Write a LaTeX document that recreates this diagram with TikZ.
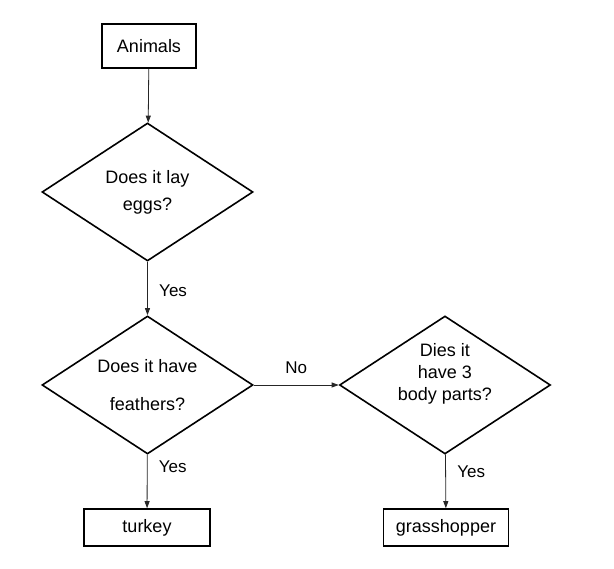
\documentclass[tikz,border=0pt]{standalone}
\usepackage{fontspec}
\setmainfont{Liberation Sans}
\usetikzlibrary{arrows.meta, shapes.geometric}

\begin{document}
\begin{tikzpicture}[x=1pt, y=-1pt,
	font=\fontsize{18}{23}\selectfont,
	box/.style={draw, line width=1.6pt, inner sep=0pt, minimum height=37pt},
	question/.style={draw, diamond, aspect=1.5, line width=1.6pt, inner sep=0pt, align=center, minimum width=211pt, minimum height=138pt},
	link/.style={draw=black!85, line width=0.8pt, -{Triangle[length=7pt, width=5pt]}},
	answer/.style={font=\fontsize{17}{20}\selectfont}]
\useasboundingbox (0,0) rectangle (614,569);
\node[box, minimum width=94pt, minimum height=44pt] (animals) at (149,46) {Animals};
\node[question] (eggs) at (147.5,192) {\raisebox{-5pt}{Does it lay}\\[9pt] eggs?};
\node[question] (feathers) at (147.5,385) {Does it have\\[15pt] feathers?};
\node[question] (parts) at (445,385) {\raisebox{7pt}[0pt][0pt]{\fontsize{18}{22}\selectfont\begin{tabular}{@{}c@{}}Dies it\\ have 3\\ body parts?\end{tabular}}};
\node[box, minimum width=126pt] (turkey) at (147,527.5) {turkey};
\node[box, minimum width=125pt] (hopper) at (446,527.5) {grasshopper};

\draw[link] (animals) -- (eggs);
\draw[link] (eggs) -- node[answer, right=8pt, pos=0.55] {Yes} (feathers);
\draw[link] (feathers) -- node[answer, right=8pt, pos=0.22] {Yes} (turkey);
\draw[link] (feathers) -- node[answer, above=8pt] {No} (parts);
\draw[link] (parts) -- node[answer, right=8pt, pos=0.33] {Yes} (hopper);
\end{tikzpicture}
\end{document}
